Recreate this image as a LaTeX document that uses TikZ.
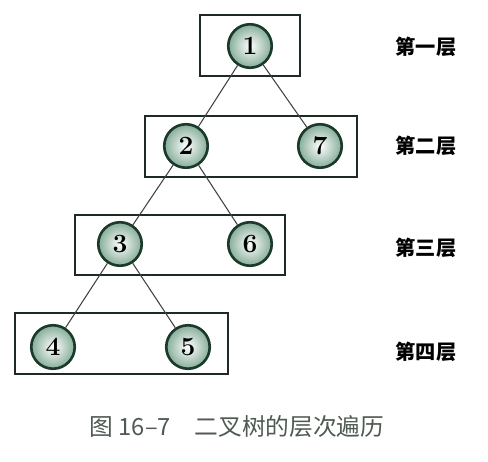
\documentclass[tikz,border=0pt]{standalone}
\usepackage{fontspec}
\newfontfamily\cjk{Noto Sans CJK SC}
\usetikzlibrary{positioning}
\definecolor{vtxline}{HTML}{1C3A2C}
\definecolor{vtxfill}{HTML}{86AD99}
\definecolor{boxline}{HTML}{1E2A22}
\definecolor{capcol}{HTML}{4F5A52}

\begin{document}
\begin{tikzpicture}[
    x=0.02cm, y=-0.02cm,
    vtx/.style={circle, minimum size=0.87cm, inner sep=0pt, draw=vtxline, line width=1.5pt,
        inner color=white, outer color=vtxfill, font=\fontsize{15}{15}\selectfont\bfseries},
    lvlbox/.style={draw=boxline, line width=1.1pt},
    edge/.style={draw=black!75, line width=0.6pt},
    lvl/.style={font=\cjk\bfseries\fontsize{11.5}{11.5}\selectfont},
    captxt/.style={font=\cjk\fontsize{13.5}{13.5}\selectfont, text=capcol},
]
\useasboundingbox (0,0) rectangle (488,462);
% level boxes
\draw[lvlbox] (200,15) rectangle (300,76);
\draw[lvlbox] (145,116) rectangle (357,177);
\draw[lvlbox] (75,215) rectangle (285,275);
\draw[lvlbox] (15,313) rectangle (228,374);
% tree nodes
\node[vtx] (n1) at (250,46) {1};
\node[vtx] (n2) at (186,146) {2};
\node[vtx] (n7) at (320,146) {7};
\node[vtx] (n3) at (120,244) {3};
\node[vtx] (n6) at (250,244) {6};
\node[vtx] (n4) at (53,347) {4};
\node[vtx] (n5) at (188,347) {5};
% edges
\draw[edge] (n1) -- (n2);
\draw[edge] (n1) -- (n7);
\draw[edge] (n2) -- (n3);
\draw[edge] (n2) -- (n6);
\draw[edge] (n3) -- (n4);
\draw[edge] (n3) -- (n5);
% level labels
\node[lvl] (l1) at (426,47) {第一层};
\node[lvl] (l2) at (426,146) {第二层};
\node[lvl] (l3) at (426,248) {第三层};
\node[lvl] (l4) at (426,352) {第四层};
% caption
\node[captxt] (caption) at (237,427) {图 16–7\quad 二叉树的层次遍历};
\end{tikzpicture}
\end{document}
